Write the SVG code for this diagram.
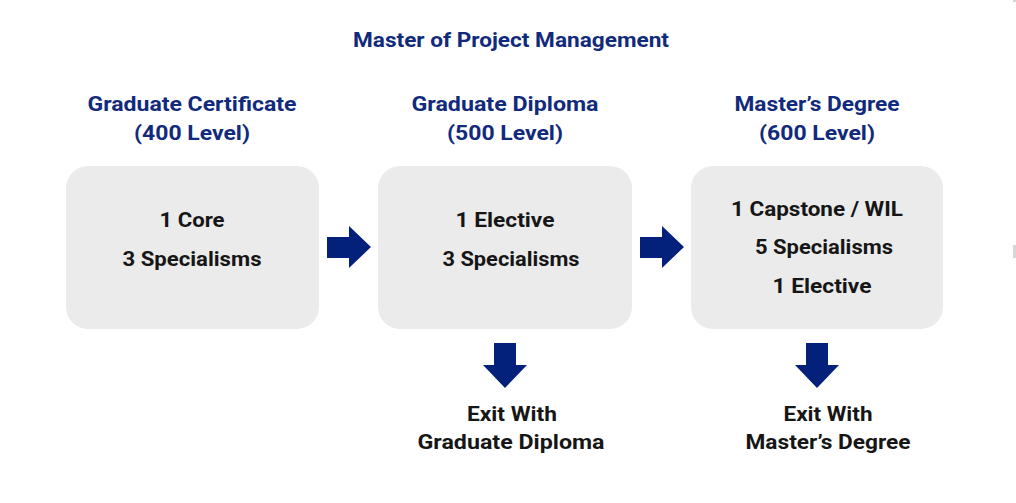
<svg xmlns="http://www.w3.org/2000/svg" width="1016" height="503" viewBox="0 0 1016 503">
<style>
.h{font-family:Roboto,"Liberation Sans",sans-serif;font-weight:700;font-size:20px;fill:#112a7c;text-anchor:middle}
.t{font-family:Roboto,"Liberation Sans",sans-serif;font-weight:700;font-size:20px;fill:#161616;text-anchor:middle}
.box{fill:#ebebeb}
.arr{fill:#03207a}
</style>
<rect width="1016" height="503" fill="#ffffff"/>
<rect x="1013" y="245" width="3" height="13" fill="#d6d6d6"/>
<rect x="1013" y="0" width="3" height="2" fill="#d6d6d6"/>
<g id="title"><text class="h" x="511" y="47" textLength="316" lengthAdjust="spacingAndGlyphs">Master of Project Management</text></g>
<g id="node-cert">
<text class="h" x="192" y="111" textLength="209" lengthAdjust="spacingAndGlyphs">Graduate Certificate</text>
<text class="h" x="192" y="140" textLength="116" lengthAdjust="spacingAndGlyphs">(400 Level)</text>
<rect class="box" x="66" y="166" width="253" height="163" rx="22"/>
<text class="t" x="192" y="227" textLength="65" lengthAdjust="spacingAndGlyphs">1 Core</text>
<text class="t" x="192" y="266" textLength="139" lengthAdjust="spacingAndGlyphs">3 Specialisms</text>
</g>
<g id="node-diploma">
<text class="h" x="505" y="111" textLength="187" lengthAdjust="spacingAndGlyphs">Graduate Diploma</text>
<text class="h" x="505" y="140" textLength="116" lengthAdjust="spacingAndGlyphs">(500 Level)</text>
<rect class="box" x="378" y="166" width="254" height="163" rx="22"/>
<text class="t" x="505" y="227" textLength="99" lengthAdjust="spacingAndGlyphs">1 Elective</text>
<text class="t" x="511" y="266" textLength="137" lengthAdjust="spacingAndGlyphs">3 Specialisms</text>
</g>
<g id="node-master">
<text class="h" x="817" y="111" textLength="165" lengthAdjust="spacingAndGlyphs">Master’s Degree</text>
<text class="h" x="817" y="140" textLength="116" lengthAdjust="spacingAndGlyphs">(600 Level)</text>
<rect class="box" x="691" y="166" width="252" height="163" rx="22"/>
<text class="t" x="817" y="216" textLength="172" lengthAdjust="spacingAndGlyphs">1 Capstone / WIL</text>
<text class="t" x="824" y="254" textLength="138" lengthAdjust="spacingAndGlyphs">5 Specialisms</text>
<text class="t" x="822" y="293" textLength="99" lengthAdjust="spacingAndGlyphs">1 Elective</text>
</g>
<g id="node-exit-diploma">
<text class="t" x="512" y="421" textLength="90" lengthAdjust="spacingAndGlyphs">Exit With</text>
<text class="t" x="511" y="449" textLength="187" lengthAdjust="spacingAndGlyphs">Graduate Diploma</text>
</g>
<g id="node-exit-master">
<text class="t" x="828" y="421" textLength="89" lengthAdjust="spacingAndGlyphs">Exit With</text>
<text class="t" x="828" y="449" textLength="165" lengthAdjust="spacingAndGlyphs">Master’s Degree</text>
</g>
<g id="connectors">
<polygon class="arr" points="327,237 349,237 349,226 371,247 349,268 349,258 327,258"/>
<polygon class="arr" points="640,237 662,237 662,226 684,247 662,268 662,258 640,258"/>
<polygon class="arr" points="494,343 516,343 516,365 527,365 505,388 483,365 494,365"/>
<polygon class="arr" points="806,343 828,343 828,365 839,365 817,388 795,365 806,365"/>
</g>
</svg>
